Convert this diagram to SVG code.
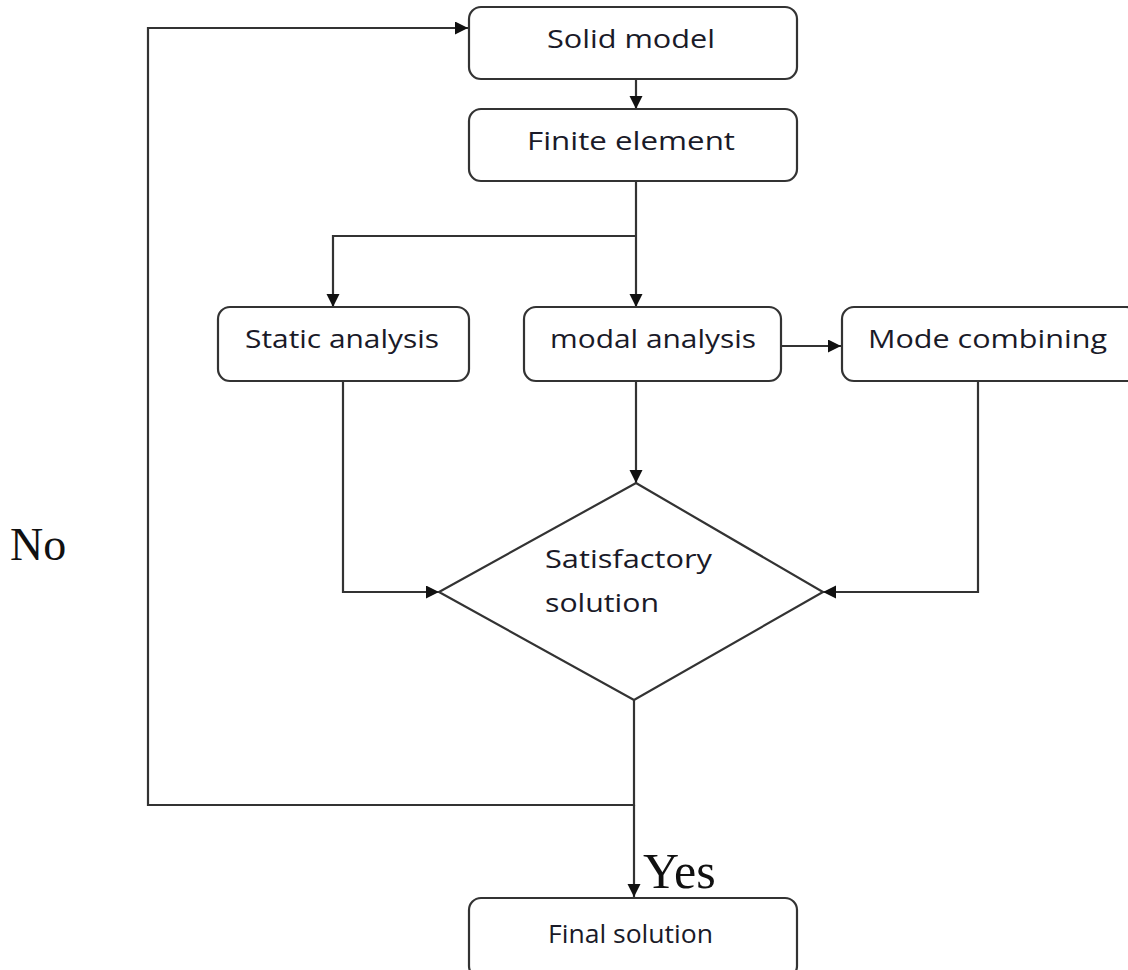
<svg xmlns="http://www.w3.org/2000/svg" width="1128" height="970" viewBox="0 0 1128 970">
<style>
.box{fill:#fff;stroke:#333;stroke-width:2.2}
.lbl{font-family:"Open Sans","Noto Sans",sans-serif;font-size:26px;fill:#1a1a28}
.ser{font-family:"Liberation Serif","Times New Roman",serif;fill:#111}
.ln{fill:none;stroke:#333;stroke-width:2.2}
</style>
<defs>
<marker id="ah" markerWidth="14" markerHeight="14" refX="13" refY="6.5" orient="auto" markerUnits="userSpaceOnUse">
<path d="M0,0 L13,6.5 L0,13 Z" fill="#111"/>
</marker>
</defs>
<rect width="1128" height="970" fill="#fff"/>
<g id="connectors">
<path class="ln" d="M636,79 V109" marker-end="url(#ah)"/>
<path class="ln" d="M636,181 V307" marker-end="url(#ah)"/>
<path class="ln" d="M636,236 H333 V307" marker-end="url(#ah)"/>
<path class="ln" d="M781,346 H841" marker-end="url(#ah)"/>
<path class="ln" d="M636,381 V483" marker-end="url(#ah)"/>
<path class="ln" d="M343,381 V592 H439" marker-end="url(#ah)"/>
<path class="ln" d="M978,381 V592 H823" marker-end="url(#ah)"/>
<path class="ln" d="M634,700 V805 H148 V28 H468" marker-end="url(#ah)"/>
<path class="ln" d="M634,805 V897" marker-end="url(#ah)"/>
</g>
<g id="solid-model">
<rect class="box" x="469" y="7" width="328" height="72" rx="12"/>
<text class="lbl" x="547" y="48" textLength="168" lengthAdjust="spacingAndGlyphs">Solid model</text>
</g>
<g id="finite-element">
<rect class="box" x="469" y="109" width="328" height="72" rx="12"/>
<text class="lbl" x="527" y="150" textLength="208" lengthAdjust="spacingAndGlyphs">Finite element</text>
</g>
<g id="static-analysis">
<rect class="box" x="218" y="307" width="251" height="74" rx="12"/>
<text class="lbl" x="245" y="348" textLength="194" lengthAdjust="spacingAndGlyphs">Static analysis</text>
</g>
<g id="modal-analysis">
<rect class="box" x="524" y="307" width="257" height="74" rx="12"/>
<text class="lbl" x="550" y="348" textLength="206" lengthAdjust="spacingAndGlyphs">modal analysis</text>
</g>
<g id="mode-combining">
<rect class="box" x="842" y="307" width="296" height="74" rx="12"/>
<text class="lbl" x="868" y="348" textLength="239" lengthAdjust="spacingAndGlyphs">Mode combining</text>
</g>
<g id="satisfactory-solution">
<polygon class="box" points="636,483 823,592 634,700 439,592"/>
<text class="lbl" x="545" y="568" textLength="167" lengthAdjust="spacingAndGlyphs">Satisfactory</text>
<text class="lbl" x="545" y="612" textLength="114" lengthAdjust="spacingAndGlyphs">solution</text>
</g>
<g id="final-solution">
<rect class="box" x="469" y="898" width="328" height="80" rx="12"/>
<text class="lbl" x="548" y="943" font-size="22" textLength="165" lengthAdjust="spacingAndGlyphs">Final solution</text>
</g>
<text class="ser" x="643" y="888" font-size="50">Yes</text>
<text class="ser" x="10" y="560" font-size="46">No</text>
</svg>
